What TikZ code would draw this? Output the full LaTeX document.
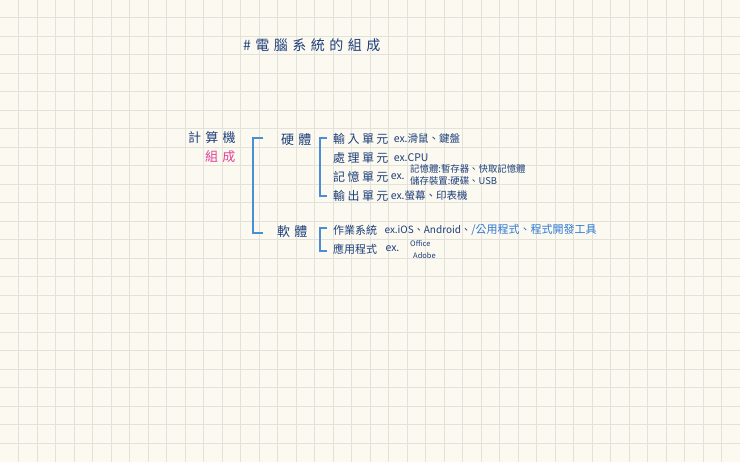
\documentclass[tikz,border=0pt]{standalone}
\usepackage{fontspec}
\setmainfont{Noto Sans CJK TC}
\newfontfamily\hand[LetterSpace=20]{Noto Sans CJK TC}
\newfontfamily\wide[LetterSpace=32]{Noto Sans CJK TC}
\usetikzlibrary{positioning}
\definecolor{paper}{HTML}{FBF9F0}
\definecolor{gridc}{HTML}{E2E1DA}
\definecolor{ink}{HTML}{1E3F7C}
\definecolor{pen}{HTML}{2C78D4}
\definecolor{brk}{HTML}{4A8ED8}
\definecolor{pink}{HTML}{E0409A}
\tikzset{
    gridline/.style={gridc, line width=0.7pt},
    txt/.style={anchor=west, inner sep=0pt, text=ink, font=\hand\fontsize{12}{12}\selectfont},
    big/.style={txt, font=\wide\fontsize{13}{13}\selectfont},
    plain/.style={txt, font=\fontsize{11}{11}\selectfont},
    small/.style={txt, font=\fontsize{10.5}{10.5}\selectfont},
    tiny/.style={txt, font=\fontsize{9.4}{9.4}\selectfont},
    bracket/.style={draw=brk, line width=1.1pt}
}

\begin{document}
\begin{tikzpicture}[x=1pt, y=-1pt]
    \fill[paper] (0,0) rectangle (740,462);
    \useasboundingbox (0,0) rectangle (740,462);
    \foreach \i in {1,...,39}
        \draw[gridline] (\i*18.5,0) -- (\i*18.5,462);
    \foreach \j in {1,...,24}
        \draw[gridline] (0,\j*18.5-1) -- (740,\j*18.5-1);

    \node[big, font=\wide\fontsize{14}{14}\selectfont] (title) at (243,45) {\#電腦系統的組成};

    \node[big] (comp) at (188,138) {計算機};
    \node[big, text=pink] (comp2) at (205,157) {組成};
    \node[big] (hw) at (281,140) {硬體};
    \node[big] (sw) at (277,232) {軟體};

    % hardware
    \node[txt] (in) at (333,139) {輸入單元};
    \node[small, right=5pt of in] (inex) {ex.滑鼠、鍵盤};
    \node[txt] (cpu) at (333,158) {處理單元};
    \node[small, right=5pt of cpu] (cpuex) {ex.CPU};
    \node[txt] (mem) at (333,177) {記憶單元};
    \node[small, right=2pt of mem] (memex) {ex.};
    \node[tiny] (mem1) at (410,169) {記憶體:暫存器、快取記憶體};
    \node[tiny] (mem2) at (410,181) {儲存裝置:硬碟、USB};
    \node[txt] (out) at (333,196) {輸出單元};
    \node[small, right=2pt of out] (outex) {ex.螢幕、印表機};

    % software
    \node[plain] (os) at (333,230) {作業系統};
    \node[small, font=\fontsize{10}{10}\selectfont, right=7pt of os] (osex) {ex.iOS、Android、};
    \node[plain, text=pen, right=0pt of osex] (osex2) {/公用程式、程式開發工具};
    \node[plain] (app) at (333,249) {應用程式};
    \node[small, right=8pt of app] (appex) {ex.};
    \node[tiny, font=\fontsize{7.5}{7.5}\selectfont] (app1) at (410,244) {Office};
    \node[tiny, font=\fontsize{7.5}{7.5}\selectfont] (app2) at (413,256) {Adobe};

    \coordinate (b1t) at (253,138);
    \coordinate (b1b) at (253,233);
    \coordinate (b2t) at (320,138);
    \coordinate (b2b) at (320,196);
    \coordinate (b3t) at (320,228);
    \coordinate (b3b) at (320,251);
    \draw[bracket] ([xshift=10pt]b1t) -- (b1t) -- (b1b) -- ([xshift=10pt]b1b);
    \draw[bracket] ([xshift=7pt]b2t) -- (b2t) -- (b2b) -- ([xshift=7pt]b2b);
    \draw[bracket] ([xshift=7pt]b3t) -- (b3t) -- (b3b) -- ([xshift=7pt]b3b);
\end{tikzpicture}
\end{document}
